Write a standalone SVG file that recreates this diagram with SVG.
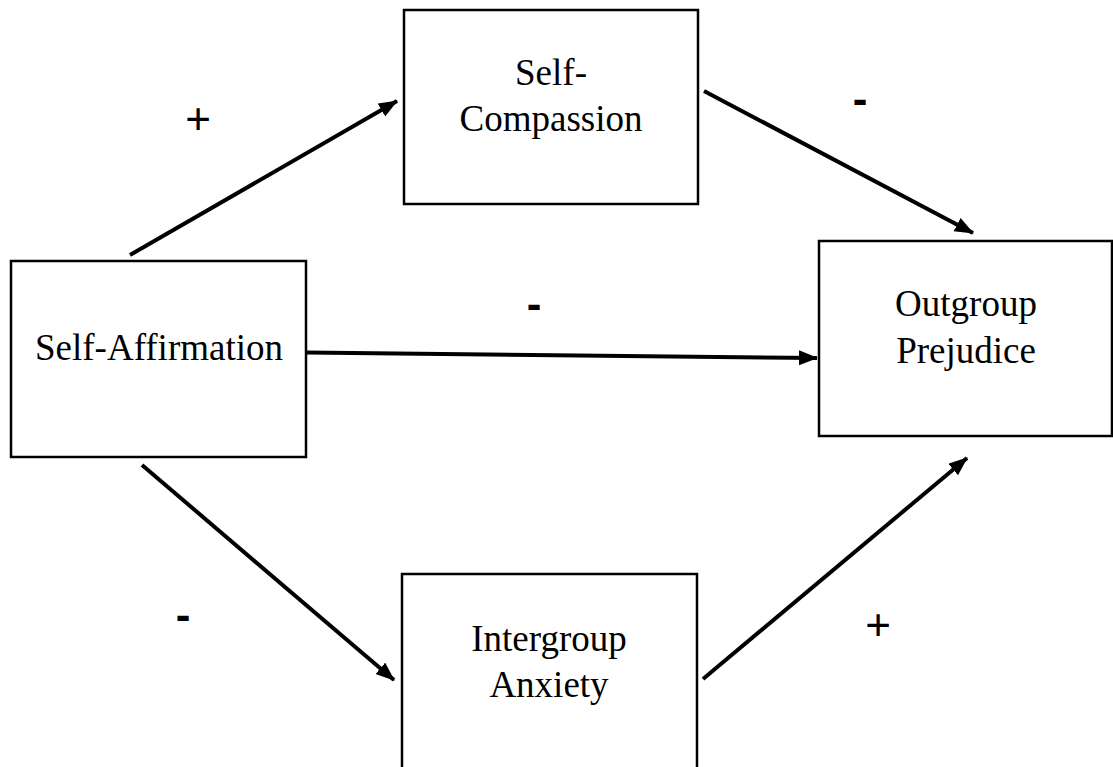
<svg xmlns="http://www.w3.org/2000/svg" width="1113" height="767" viewBox="0 0 1113 767">
<style>
.box{fill:#fff;stroke:#000;stroke-width:2.5}
.lbl{font-family:"Liberation Serif","Times New Roman",serif;font-size:37px;fill:#000;text-anchor:middle}
.sign{font-family:"Liberation Sans",Arial,sans-serif;font-size:44px;fill:#000;text-anchor:middle}
.minus{font-weight:bold}
.edge{stroke:#000;stroke-width:4;fill:none;marker-end:url(#ah)}
</style>
<defs>
<marker id="ah" markerUnits="userSpaceOnUse" markerWidth="20" markerHeight="16" refX="18" refY="7.5" orient="auto">
<path d="M0,0 L19,7.5 L0,15 z" fill="#000"/>
</marker>
</defs>
<rect width="1113" height="767" fill="#fff"/>
<g id="connectors">
<line class="edge" x1="130" y1="255" x2="397" y2="101"/>
<line class="edge" x1="704" y1="91" x2="973" y2="233"/>
<line class="edge" x1="306" y1="352.5" x2="817" y2="358"/>
<line class="edge" x1="142" y1="465" x2="394" y2="680"/>
<line class="edge" x1="703" y1="679" x2="967" y2="458"/>
</g>
<g id="self-affirmation">
<rect class="box" x="11" y="261" width="295" height="196"/>
<text class="lbl" x="159" y="360">Self-Affirmation</text>
</g>
<g id="self-compassion">
<rect class="box" x="404" y="10" width="294" height="194"/>
<text class="lbl" x="551" y="85">Self-</text>
<text class="lbl" x="551" y="131">Compassion</text>
</g>
<g id="outgroup-prejudice">
<rect class="box" x="819" y="241" width="293" height="195"/>
<text class="lbl" x="966" y="316">Outgroup</text>
<text class="lbl" x="966" y="363">Prejudice</text>
</g>
<g id="intergroup-anxiety">
<rect class="box" x="402" y="574" width="295" height="200"/>
<text class="lbl" x="549" y="651">Intergroup</text>
<text class="lbl" x="549" y="697">Anxiety</text>
</g>
<g id="labels">
<text class="sign" x="198" y="134">+</text>
<text class="sign minus" x="860" y="114">-</text>
<text class="sign minus" x="534" y="319">-</text>
<text class="sign minus" x="183" y="630">-</text>
<text class="sign" x="878" y="640">+</text>
</g>
</svg>
